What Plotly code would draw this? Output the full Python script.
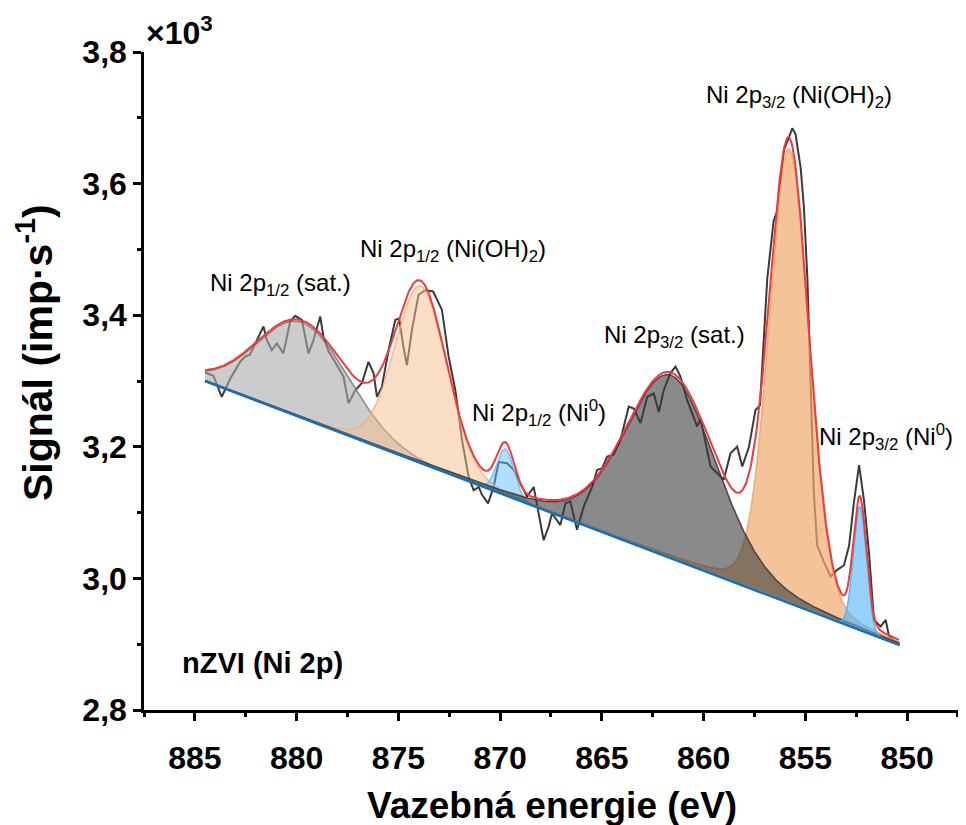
import numpy as np
import plotly.graph_objects as go

# ---------------- data ----------------
raw_energy = [884.50, 884.09, 883.68, 883.27, 882.78, 882.53, 882.29, 881.96, 881.63, 881.46,
              881.22, 880.97, 880.65, 880.32, 880.07, 879.74, 879.42, 879.17, 878.84, 878.68,
              878.43, 878.11, 877.70, 877.45, 877.12, 876.79, 876.47, 876.22, 876.05, 875.81,
              875.48, 875.15, 874.96, 874.75, 874.58, 874.33, 874.01, 873.68, 873.29, 872.86,
              872.53, 872.20, 871.87, 871.55, 871.30, 871.05, 870.89, 870.59, 870.32, 870.07,
              869.66, 869.33, 868.92, 868.68, 868.35, 868.10, 867.86, 867.61, 867.45, 867.04,
              866.79, 866.55, 866.22, 865.89, 865.48, 865.23, 864.99, 864.74, 864.42, 864.09,
              863.68, 863.43, 863.10, 862.77, 862.45, 862.20, 861.96, 861.63, 861.38, 861.14,
              860.81, 860.32, 860.15, 859.66, 859.33, 859.01, 858.68, 858.35, 858.10, 857.77,
              857.45, 857.23, 856.87, 856.56, 856.38, 856.05, 855.64, 855.48, 855.23, 855.07,
              854.90, 854.74, 854.58, 854.42, 854.09, 853.76, 853.43, 853.10, 852.85, 852.62,
              852.36, 852.12, 851.87, 851.63, 851.30, 851.05, 850.89, 850.48]
raw_signal = [3313, 3308, 3276, 3303, 3329, 3337, 3340, 3362, 3383, 3362,
              3347, 3357, 3342, 3390, 3399, 3393, 3342, 3362, 3398, 3367,
              3345, 3329, 3307, 3266, 3286, 3297, 3329, 3312, 3276, 3291,
              3347, 3393, 3395, 3352, 3324, 3378, 3431, 3438, 3436, 3408,
              3337, 3286, 3210, 3155, 3134, 3139, 3127, 3114, 3139, 3177,
              3175, 3165, 3139, 3124, 3139, 3099, 3058, 3079, 3099, 3081,
              3114, 3117, 3074, 3109, 3139, 3165, 3167, 3185, 3188, 3210,
              3261, 3258, 3236, 3276, 3281, 3253, 3286, 3312, 3322, 3307,
              3271, 3231, 3243, 3170, 3160, 3150, 3190, 3200, 3170, 3200,
              3256, 3263, 3456, 3543, 3559, 3651, 3684, 3675, 3624, 3564,
              3456, 3293, 3130, 3050, 3025, 3003, 3013, 3020, 3050, 3114,
              3172, 3119, 3038, 2937, 2927, 2937, 2912, 2902]

baseline_energy = [884.5, 850.4]
baseline_signal = [3300, 2899]

peak_labels = ["Ni 2p<sub>1/2</sub> (sat.)",
               "Ni 2p<sub>1/2</sub> (Ni(OH)<sub>2</sub>)",
               "Ni 2p<sub>1/2</sub> (Ni<sup>0</sup>)",
               "Ni 2p<sub>3/2</sub> (sat.)",
               "Ni 2p<sub>3/2</sub> (Ni(OH)<sub>2</sub>)",
               "Ni 2p<sub>3/2</sub> (Ni<sup>0</sup>)"]
peak_center = [879.7, 873.9, 869.74, 861.6, 855.8, 852.32]
peak_height = [145, 269, 70, 278, 690, 188]
peak_fwhm = [5.3, 3.0, 1.0, 5.3, 2.3, 0.75]
peak_mix = [0.0, 0.1, 0.0, 0.2, 0.15, 0.0]

label_energy = [880.8, 872.3, 868.1, 861.45, 855.3, 847.65]
label_signal = [3446, 3499, 3251, 3367, 3732, 3215]
label_anchor = ["center", "center", "center", "center", "center", "right"]

# ---------------- styles ----------------
fill_colors = ["rgba(170,170,170,0.6)", "rgba(245,190,140,0.5)", "rgba(100,190,250,0.5)",
               "rgba(60,60,60,0.6)", "rgba(240,170,110,0.7)", "rgba(80,180,250,0.6)"]
edge_colors = ["rgba(110,110,110,0.8)", "rgba(240,175,125,0.8)", "rgba(110,190,245,0.9)",
               "rgba(60,60,60,0.9)", "rgba(235,165,105,0.9)", "rgba(80,175,245,0.9)"]
draw_order = [0, 1, 2, 4, 3, 5]

FONT = "Arial, Liberation Sans, sans-serif"

xs = np.linspace(baseline_energy[0], baseline_energy[1], 800)
base = np.interp(xs, baseline_energy[::-1], baseline_signal[::-1])


def pseudo_voigt(x, c, h, w, m):
    g = np.exp(-4 * np.log(2) * (x - c) ** 2 / w ** 2)
    l = 1.0 / (1.0 + 4 * (x - c) ** 2 / w ** 2)
    return h * ((1 - m) * g + m * l)


comps = [pseudo_voigt(xs, c, h, w, m)
         for c, h, w, m in zip(peak_center, peak_height, peak_fwhm, peak_mix)]
envelope = base + np.sum(comps, axis=0)

fig = go.Figure()

fig.add_trace(go.Scatter(x=raw_energy, y=np.array(raw_signal) / 1000, mode="lines",
                         line=dict(color="#3a3a3a", width=2), showlegend=False))

for i in draw_order:
    top = base + comps[i]
    px = np.concatenate([xs, xs[::-1]])
    py = np.concatenate([top, base[::-1]]) / 1000
    fig.add_trace(go.Scatter(x=px, y=py, mode="lines", fill="toself",
                             fillcolor=fill_colors[i],
                             line=dict(color=edge_colors[i], width=1.5),
                             showlegend=False))

fig.add_trace(go.Scatter(x=xs, y=envelope / 1000, mode="lines",
                         line=dict(color="#ee3b3b", width=2), showlegend=False))
fig.add_trace(go.Scatter(x=baseline_energy, y=np.array(baseline_signal) / 1000, mode="lines",
                         line=dict(color="#1a6fb0", width=2.5), showlegend=False))

annotations = []
for t, ex, ey, anc in zip(peak_labels, label_energy, label_signal, label_anchor):
    annotations.append(dict(x=ex, y=ey / 1000, xref="x", yref="y", text=t, showarrow=False,
                            font=dict(family=FONT, size=24, color="black"),
                            xanchor=anc, yanchor="middle"))
annotations.append(dict(x=885.75, y=2.871, xref="x", yref="y", text="<b>nZVI (Ni 2p)</b>",
                        showarrow=False, font=dict(family=FONT, size=29, color="black"),
                        xanchor="left", yanchor="middle"))
annotations.append(dict(x=0.0, y=1.0, xref="paper", yref="paper", text="<b>×10<sup>3</sup></b>",
                        showarrow=False, font=dict(family=FONT, size=32, color="black"),
                        xanchor="left", yanchor="bottom", yshift=-1))
annotations.append(dict(x=-0.1336, y=0.544, xref="paper", yref="paper",
                        text="<b>Signál (imp·s<sup>-1</sup>)</b>", textangle=-90,
                        showarrow=False, font=dict(family=FONT, size=41, color="black"),
                        xanchor="center", yanchor="middle"))
annotations.append(dict(x=0.5, y=-0.1444, xref="paper", yref="paper",
                        text="<b>Vazebná energie (eV)</b>",
                        showarrow=False, font=dict(family=FONT, size=37, color="black"),
                        xanchor="center", yanchor="middle"))

axis_common = dict(showline=True, linecolor="black", linewidth=2.5, mirror=False,
                   ticks="outside", ticklen=8, tickwidth=2.5, tickcolor="black",
                   showgrid=False, zeroline=False,
                   tickfont=dict(family=FONT, size=32, color="black", weight="bold"))

# the browser page adds an 8 px body margin, so the figure is 8 px smaller
fig.update_layout(
    width=958, height=817,
    margin=dict(l=136, r=6, t=44, b=115),
    plot_bgcolor="white", paper_bgcolor="white",
    separators=",.",
    annotations=annotations,
    xaxis=dict(range=[887.5, 847.4], tick0=850, dtick=5, ticklabelstandoff=10,
               minor=dict(dtick=2.5, ticklen=4, tickwidth=2.5, ticks="outside", tickcolor="black"),
               **axis_common),
    yaxis=dict(range=[2.8, 3.8], tick0=2.8, dtick=0.2, tickformat=".1f",
               minor=dict(dtick=0.1, ticklen=4, tickwidth=2.5, ticks="outside", tickcolor="black"),
               **axis_common),
)

fig.write_html("out.html")
